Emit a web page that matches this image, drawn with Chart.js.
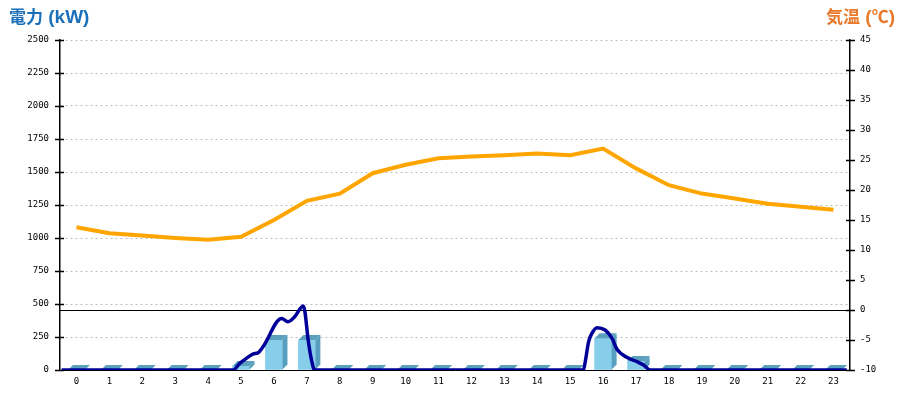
<!DOCTYPE html>
<html>
<head>
<meta charset="utf-8">
<script src="https://cdn.jsdelivr.net/npm/chart.js@4/dist/chart.umd.min.js"></script>
<style>
  html, body { margin: 0; padding: 0; background: #fff; }
  #wrap { position: relative; width: 900px; height: 400px; }
  canvas { position: absolute; left: 0; top: 0; }
  .ttl { position: absolute; top: 7px; font-weight: bold; line-height: 1; white-space: nowrap; }
  .ttl .j { font-family: "Noto Sans CJK JP", sans-serif; font-size: 17px; }
  .ttl .l { font-family: "Liberation Sans", sans-serif; font-size: 19px; }
  #tl { left: 9px; color: #1b6fba; }
  #tr { right: 5px; color: #e8782a; }
</style>
</head>
<body>
<div id="wrap">
  <canvas id="c" width="900" height="400"></canvas>
  <div class="ttl" id="tl"><span class="j">電力</span><span class="l"> (kW)</span></div>
  <div class="ttl" id="tr"><span class="j">気温</span><span class="l"> (</span><span class="j">℃</span><span class="l">)</span></div>
</div>
<script>
// ---- data ----
const hours = ['0','1','2','3','4','5','6','7','8','9','10','11','12','13','14','15','16','17','18','19','20','21','22','23'];
const barKw = [0,0,0,0,0,30,227,227,0,0,0,0,0,0,0,0,240,68,0,0,0,0,0,0];
const tempC = [13.8,12.8,12.4,12.0,11.7,12.2,15.0,18.2,19.4,22.8,24.2,25.3,25.6,25.8,26.1,25.8,26.9,23.6,20.8,19.4,18.6,17.7,17.2,16.7];
const powerHours = [-0.45,4.76,4.96,5.16,5.36,5.52,5.67,6.23,6.43,6.63,6.89,6.94,7.04,7.14,7.24,15.40,15.45,15.56,15.66,15.81,16.06,16.27,16.42,16.72,17.03,17.23,17.43,23.4];
const powerKw    = [0,0,50,88,121,131,177,391,366,404,485,442,227,76,0,0,53,215,278,321,303,240,157,96,63,38,0,0];
const kwTicks = [0,250,500,750,1000,1250,1500,1750,2000,2250,2500];
const tempTicks = [-10,-5,0,5,10,15,20,25,30,35,40,45];

const powerPoints = powerHours.map((h, i) => ({ x: h, y: powerKw[i] }));
const tickFont = { family: 'DejaVu Sans Mono', size: 9 };

const deco = {
  id: 'deco',
  beforeDatasetsDraw(chart) {
    const ctx = chart.ctx, a = chart.chartArea;
    const y2 = chart.scales.y2;
    const yz = Math.round(y2.getPixelForValue(0)) + 0.5;
    ctx.save();
    ctx.strokeStyle = '#000';
    ctx.lineWidth = 1;
    ctx.beginPath();
    ctx.moveTo(a.left, yz); ctx.lineTo(a.right, yz);
    ctx.stroke();
    ctx.lineWidth = 1.5;
    ctx.beginPath();
    chart.scales.y.ticks.forEach(t => {
      const py = Math.round(chart.scales.y.getPixelForValue(t.value)) + 0.5;
      ctx.moveTo(a.left - 5, py); ctx.lineTo(a.left + 4, py);
    });
    y2.ticks.forEach(t => {
      const py = Math.round(y2.getPixelForValue(t.value)) + 0.5;
      ctx.moveTo(a.right - 4, py); ctx.lineTo(a.right + 5, py);
    });
    ctx.stroke();
    ctx.restore();
  },
  afterDatasetDraw(chart, args) {
    if (args.index !== 0) return;
    const ctx = chart.ctx, d = 5;
    ctx.save();
    args.meta.data.forEach(el => {
      const p = el.getProps(['x', 'y', 'base', 'width'], true);
      const l = p.x - p.width / 2, r = p.x + p.width / 2;
      ctx.fillStyle = '#5ba0be';
      ctx.beginPath();
      ctx.moveTo(l, p.y); ctx.lineTo(l + d, p.y - d); ctx.lineTo(r + d, p.y - d); ctx.lineTo(r, p.y);
      ctx.closePath(); ctx.fill();
      if (p.base - p.y > 0.5) {
        ctx.fillStyle = '#579fbf';
        ctx.beginPath();
        ctx.moveTo(r, p.y); ctx.lineTo(r + d, p.y - d); ctx.lineTo(r + d, p.base - d); ctx.lineTo(r, p.base);
        ctx.closePath(); ctx.fill();
      }
    });
    ctx.restore();
  }
};

new Chart(document.getElementById('c'), {
  type: 'bar',
  data: {
    labels: hours,
    datasets: [
      { type: 'bar', data: barKw, backgroundColor: '#87ceeb', borderWidth: 0, grouped: false,
        barPercentage: 1, categoryPercentage: 1, maxBarThickness: 17, xAxisID: 'x', yAxisID: 'y', order: 3 },
      { type: 'line', data: tempC, borderColor: '#ffa500', borderWidth: 4, pointRadius: 0,
        tension: 0, xAxisID: 'x', yAxisID: 'y2', order: 2 },
      { type: 'line', data: powerPoints, borderColor: '#000099', borderWidth: 3.5, pointRadius: 0,
        cubicInterpolationMode: 'monotone', xAxisID: 'xl', yAxisID: 'y', order: 1 }
    ]
  },
  options: {
    responsive: false,
    animation: false,
    events: [],
    layout: { padding: { top: 40, left: 0, right: 0, bottom: 0 } },
    plugins: { legend: { display: false }, tooltip: { enabled: false }, title: { display: false } },
    scales: {
      x: {
        type: 'category', offset: true,
        grid: { display: false, drawTicks: false },
        border: { display: true, color: '#000', width: 1 },
        ticks: { font: tickFont, color: '#000', padding: 6, maxRotation: 0, autoSkip: false },
        afterFit(s) { s.height = 30; }
      },
      xl: { type: 'linear', min: -0.5, max: 23.5, offset: false, grid: { offset: false }, display: false },
      y: {
        position: 'left', min: 0, max: 2500,
        afterBuildTicks(s) { s.ticks = kwTicks.map(v => ({ value: v })); },
        grid: { color: '#bdbdbd', drawTicks: false, lineWidth: 1 },
        border: { display: true, color: '#000', width: 1.5, dash: [2, 3] },
        ticks: { font: tickFont, color: '#000', padding: 11, callback: v => String(v) },
        afterFit(s) { s.width = 60; }
      },
      y2: {
        position: 'right', min: -10, max: 45,
        afterBuildTicks(s) { s.ticks = tempTicks.map(v => ({ value: v })); },
        grid: { display: false, drawTicks: false },
        border: { display: true, color: '#000', width: 1.5 },
        ticks: { font: tickFont, color: '#000', padding: 10, callback: v => String(v) },
        afterFit(s) { s.width = 50; }
      }
    }
  },
  plugins: [deco]
});
</script>
</body>
</html>
